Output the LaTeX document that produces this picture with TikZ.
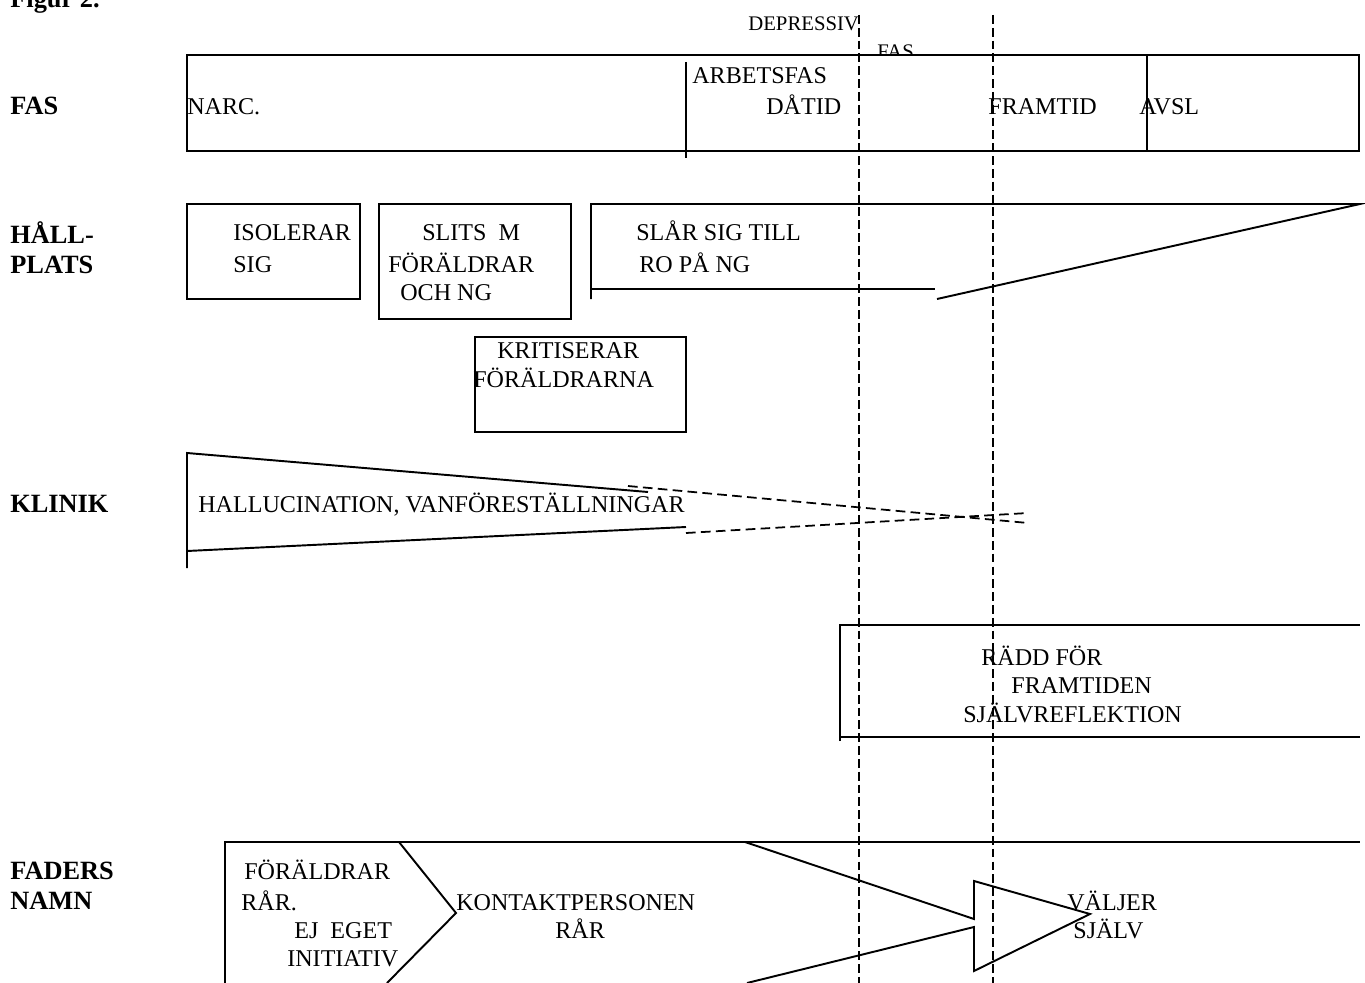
\documentclass[tikz,border=0pt]{standalone}
\usepackage{fontspec}
\setmainfont{Liberation Serif}
\tikzset{
  txt/.style={anchor=base west,inner sep=0pt,font=\fontsize{13.7}{16}\selectfont},
  rowlabel/.style={txt,font=\fontsize{15}{18}\selectfont\bfseries},
  smalltxt/.style={txt,font=\fontsize{11.8}{14}\selectfont},
  rim/.style={line width=1.1pt},
  phase/.style={line width=1pt,dash pattern=on 5pt off 2.3pt},
  fade/.style={line width=1pt,dash pattern=on 5.5pt off 3pt}
}
\begin{document}
\begin{tikzpicture}[x=0.02cm,y=-0.02cm]
\useasboundingbox (0,0) rectangle (1365,983);

\node[rowlabel] (title) at (10,8) {Figur 2.};

%row labels
\node[rowlabel] (lfas) at (10,115) {FAS};
\node[rowlabel] (lhall) at (10,243) {HÅLL-};
\node[rowlabel] (lplats) at (10,273) {PLATS};
\node[rowlabel] (lklinik) at (10,512) {KLINIK};
\node[rowlabel] (lfaders) at (10,879) {FADERS};
\node[rowlabel] (lnamn) at (10,909) {NAMN};

%fas
\node[smalltxt] (depr) at (748,31) {DEPRESSIV};
\node[smalltxt] (deprfas) at (877,59) {FAS};
\draw[rim,fill=white] (187,55) rectangle (1359,151);
\draw[rim] (686,62) -- (686,158);
\draw[rim] (1147,55) -- (1147,151);
\node[txt] (narc) at (187,115) {NARC.};
\node[txt] (arbets) at (692,84) {ARBETSFAS};
\node[txt] (datid) at (766,115) {DÅTID};
\node[txt] (framtid) at (988,115) {FRAMTID};
\node[txt] (avsl) at (1139,115) {AVSL};

%hallplats
\draw[rim] (187,204) rectangle (360,299);
\draw[rim] (379,204) rectangle (571,319);
\draw[rim] (591,299) -- (591,204) -- (1360,204) -- (937,299);
\draw[rim] (591,289) -- (935,289);
\draw[rim] (475,337) rectangle (686,432);
\node[txt] (isol) at (233,240) {ISOLERAR};
\node[txt] (isolsig) at (233,272) {SIG};
\node[txt] (slits) at (422,240) {SLITS\ \ M};
\node[txt] (slitsfor) at (388,272) {FÖRÄLDRAR};
\node[txt] (slitsoch) at (400,300) {OCH NG};
\node[txt] (slar) at (636,240) {SLÅR SIG TILL};
\node[txt] (slarro) at (639,272) {RO PÅ NG};
\node[txt] (krit) at (497,358) {KRITISERAR};
\node[txt] (kritfor) at (473,387) {FÖRÄLDRARNA};

%klinik
\draw[rim] (187,568) -- (187,453) -- (648,492);
\draw[rim] (187,551) -- (686,527);
\draw[fade] (628,486) -- (1028,523);
\draw[fade] (686,533) -- (1028,513);
\node[txt] (hallu) at (198,512) {HALLUCINATION, VANFÖRESTÄLLNINGAR};

%radd
\draw[rim] (840,741) -- (840,625) -- (1360,625);
\draw[rim] (840,737) -- (1360,737);
\node[txt] (radd) at (981,665) {RÄDD FÖR};
\node[txt] (raddfr) at (1011,693) {FRAMTIDEN};
\node[txt] (sjalvr) at (963,722) {SJÄLVREFLEKTION};

%faders namn
\draw[rim] (225,983) -- (225,842) -- (1360,842);
\draw[rim] (399,842) -- (456,913) -- (387,983);
\draw[rim] (745,842) -- (974,919) -- (974,881) -- (1090,914) -- (974,971) -- (974,927) -- (747,983);
\node[txt] (forald) at (244,879) {FÖRÄLDRAR};
\node[txt] (rar) at (241,910) {RÅR.};
\node[txt] (ejeget) at (294,938) {EJ\ \ EGET};
\node[txt] (init) at (287,966) {INITIATIV};
\node[txt] (kontakt) at (456,910) {KONTAKTPERSONEN};
\node[txt] (kontrar) at (555,938) {RÅR};
\node[txt] (valjer) at (1067,910) {VÄLJER};
\node[txt] (sjalv) at (1073,938) {SJÄLV};

%depressiv fas
\draw[phase] (859,15) -- (859,983);
\draw[phase] (993,15) -- (993,983);

\end{tikzpicture}
\end{document}
